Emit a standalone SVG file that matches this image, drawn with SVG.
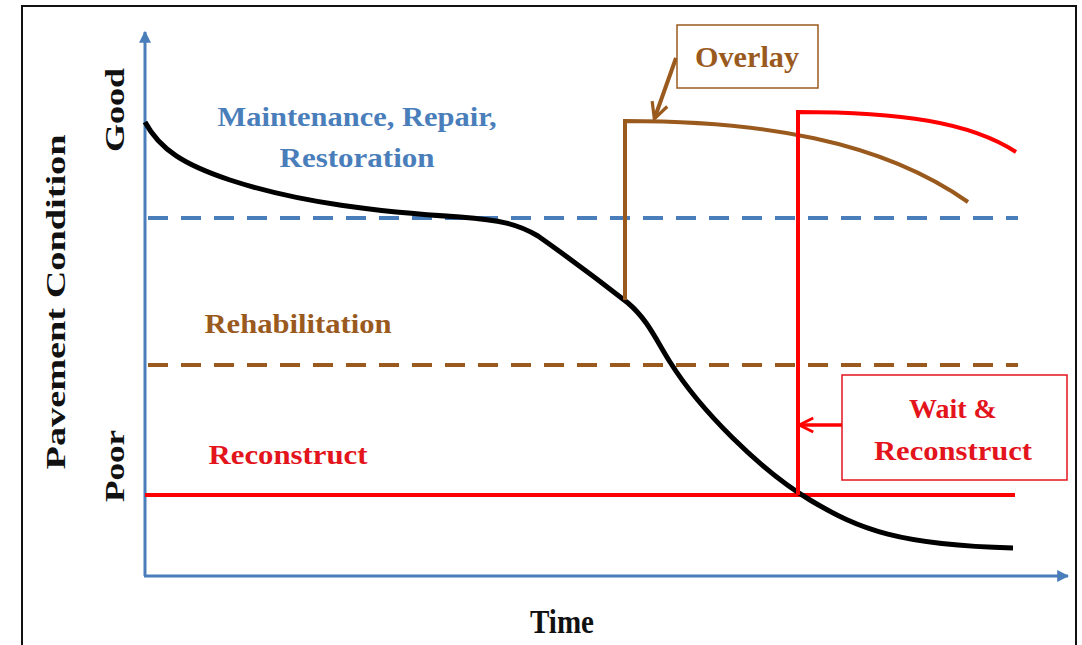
<svg xmlns="http://www.w3.org/2000/svg" width="1082" height="645" viewBox="0 0 1082 645">
<style>
.t{font-family:"Liberation Serif","Times New Roman",serif;font-weight:bold}
.blue{fill:#4a7ebb}.brown{fill:#9a5a1e}.red{fill:#e3141c}.blk{fill:#111}
</style>
<defs>
<marker id="ab" viewBox="0 0 10 10" refX="9" refY="5" markerWidth="4" markerHeight="4" orient="auto"><path d="M0,0 L10,5 L0,10 z" fill="#4a7ebb"/></marker>
<marker id="ob" viewBox="0 0 10 10" refX="8" refY="5" markerWidth="5" markerHeight="5" orient="auto"><path d="M1,1 L9,5 L1,9" fill="none" stroke="#9a5a1e" stroke-width="1.6"/></marker>
<marker id="rb" viewBox="0 0 10 10" refX="8" refY="5" markerWidth="5" markerHeight="5" orient="auto"><path d="M1,1 L9,5 L1,9" fill="none" stroke="#ff0000" stroke-width="1.6"/></marker>
</defs>
<rect width="1082" height="645" fill="#fff"/>
<rect x="22" y="6" width="1054" height="650" fill="none" stroke="#111" stroke-width="2"/>
<g id="axes" fill="none" stroke="#4a7ebb" stroke-width="3">
<line x1="145" y1="576" x2="145" y2="32" marker-end="url(#ab)"/>
<line x1="144" y1="576" x2="1068" y2="576" marker-end="url(#ab)"/>
</g>
<g id="connectors" fill="none">
<line x1="148" y1="218" x2="1018" y2="218" stroke="#4a7ebb" stroke-width="4" stroke-dasharray="20,13"/>
<line x1="148" y1="365" x2="1018" y2="365" stroke="#9a5a1e" stroke-width="4" stroke-dasharray="20,13"/>
<line x1="145" y1="495" x2="1015" y2="495" stroke="#ff0000" stroke-width="4"/>
<path d="M145,122 C160,150 185,165 230,180 C300,203 380,212 460,217 C500,220 518,224 538,236 C572,260 605,285 628,303 C648,320 656,340 670,362 C700,410 760,470 810,500 C860,530 900,545 1013,548" stroke="#000" stroke-width="5"/>
<path d="M625,300 L625,121 C760,121 880,140 968,202" stroke="#9a5a1e" stroke-width="4"/>
<path d="M798,495 L798,112 C900,112 970,122 1016,152" stroke="#ff0000" stroke-width="4"/>
<line x1="676" y1="58" x2="655" y2="117" stroke="#9a5a1e" stroke-width="4" marker-end="url(#ob)"/>
<line x1="842" y1="425" x2="801" y2="425" stroke="#ff0000" stroke-width="3.5" marker-end="url(#rb)"/>
</g>
<g id="overlay">
<rect x="677" y="25" width="141" height="63" fill="#fff" stroke="#9a5a1e" stroke-width="1.5"/>
<text class="t brown" x="747" y="67" font-size="29" text-anchor="middle" textLength="104" lengthAdjust="spacingAndGlyphs">Overlay</text>
</g>
<g id="wait">
<rect x="842" y="375" width="225" height="105" fill="#fff" stroke="#e3141c" stroke-width="1.5"/>
<text class="t red" x="953" y="418" font-size="28" text-anchor="middle">Wait &amp;</text>
<text class="t red" x="953" y="460" font-size="28" text-anchor="middle" textLength="158" lengthAdjust="spacingAndGlyphs">Reconstruct</text>
</g>
<g id="labels">
<text class="t blue" x="357" y="126" font-size="28" text-anchor="middle" textLength="279" lengthAdjust="spacingAndGlyphs">Maintenance, Repair,</text>
<text class="t blue" x="357" y="167" font-size="28" text-anchor="middle" textLength="155" lengthAdjust="spacingAndGlyphs">Restoration</text>
<text class="t brown" x="298" y="333" font-size="28" text-anchor="middle" textLength="187" lengthAdjust="spacingAndGlyphs">Rehabilitation</text>
<text class="t red" x="288" y="464" font-size="28" text-anchor="middle" textLength="159" lengthAdjust="spacingAndGlyphs">Reconstruct</text>
<text class="t blk" transform="translate(65,302) rotate(-90)" font-size="28" text-anchor="middle" textLength="335" lengthAdjust="spacingAndGlyphs">Pavement Condition</text>
<text class="t blk" transform="translate(124,110) rotate(-90)" font-size="28" text-anchor="middle" textLength="84" lengthAdjust="spacingAndGlyphs">Good</text>
<text class="t blk" transform="translate(124,466) rotate(-90)" font-size="28" text-anchor="middle" textLength="72" lengthAdjust="spacingAndGlyphs">Poor</text>
<text class="t blk" x="562" y="633" font-size="33" text-anchor="middle" textLength="64" lengthAdjust="spacingAndGlyphs">Time</text>
</g>
</svg>
